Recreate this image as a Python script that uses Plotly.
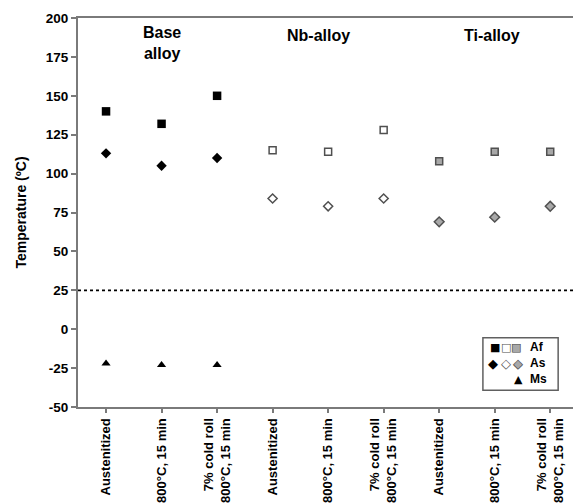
import plotly.graph_objects as go

# ---- data ----
positions = [1, 2, 3, 4, 5, 6, 7, 8, 9]
tick_labels = ["Austenitized", "800°C, 15 min", "7% cold roll<br>800°C, 15 min",
               "Austenitized", "800°C, 15 min", "7% cold roll<br>800°C, 15 min",
               "Austenitized", "800°C, 15 min", "7% cold roll<br>800°C, 15 min"]
y_tick_vals = [-50, -25, 0, 25, 50, 75, 100, 125, 150, 175, 200]
y_tick_text = ["-50", "-25", "0", "25", "50", "75", "100", "125", "150", "175", "200"]

base_x = [1, 2, 3]
nb_x = [4, 5, 6]
ti_x = [7, 8, 9]

base_af = [140, 132, 150]
base_as = [113, 105, 110]
base_ms = [-22, -23, -23]

nb_af = [115, 114, 128]
nb_as = [84, 79, 84]

ti_af = [108, 114, 114]
ti_as = [69, 72, 79]

group_names = ["Base<br>alloy", "Nb-alloy", "Ti-alloy"]
group_label_x = [2.0, 4.82, 7.95]
group_label_y = [184, 189, 189]

rt_temp = 25

FONT = "Arial, Liberation Sans, sans-serif"
DARK = "#505050"
GRAY_FILL = "#a8a8a8"
AXIS = "#7a7a7a"

fig = go.Figure()

def add(x, y, symbol, size, fill, line_color, line_w):
    fig.add_trace(go.Scatter(
        x=x, y=y, mode="markers", showlegend=False,
        marker=dict(symbol=symbol, size=size, color=fill,
                    line=dict(color=line_color, width=line_w))))

add(base_x, base_af, "square", 8.5, "black", "black", 0)
add(base_x, base_as, "diamond", 8, "black", "black", 0)
add(base_x, base_ms, "triangle-up", 8, "black", "black", 0)
add(nb_x, nb_af, "square", 7, "white", DARK, 1.5)
add(nb_x, nb_as, "diamond", 7, "white", DARK, 1.5)
add(ti_x, ti_af, "square", 7, GRAY_FILL, DARK, 1.5)
add(ti_x, ti_as, "diamond", 7.5, GRAY_FILL, DARK, 1.5)

# dotted room-temperature line
fig.add_shape(type="line", xref="paper", x0=0, x1=1, yref="y", y0=rt_temp, y1=rt_temp,
              line=dict(color="black", width=1.8, dash="dot"))

# group labels
for name, gx, gy in zip(group_names, group_label_x, group_label_y):
    fig.add_annotation(x=gx, y=gy, xref="x", yref="y", text="<b>" + name + "</b>",
                       showarrow=False, font=dict(family=FONT, size=16, color="black"),
                       align="center")

# custom legend (box + glyphs)
fig.add_shape(type="rect", xref="paper", yref="paper", x0=0.818, x1=0.970, y0=0.043, y1=0.178,
              line=dict(color="#606060", width=1.5), fillcolor="white")

def glyph(x, y, ch, color, size):
    fig.add_annotation(x=x, y=y, xref="paper", yref="paper", text=ch, showarrow=False,
                       xanchor="center", yanchor="middle",
                       font=dict(family="DejaVu Sans", size=size, color=color))

row_af, row_as, row_ms = 0.153, 0.112, 0.071
glyph(0.842, row_af, "■", "black", 11)
glyph(0.864, row_af, "□", DARK, 11)
glyph(0.885, row_af, "■", GRAY_FILL, 11)
glyph(0.885, row_af, "□", DARK, 11)
glyph(0.838, row_as, "◆", "black", 13)
glyph(0.864, row_as, "◇", DARK, 13)
glyph(0.889, row_as, "◆", GRAY_FILL, 13)
glyph(0.889, row_as, "◇", DARK, 13)
glyph(0.889, row_ms, "▲", "black", 11)
for txt, ry in [("Af", row_af), ("As", row_as), ("Ms", row_ms)]:
    fig.add_annotation(x=0.91, y=ry, xref="paper", yref="paper", text="<b>" + txt + "</b>",
                       showarrow=False, xanchor="left", yanchor="middle",
                       font=dict(family=FONT, size=12, color="black"))

fig.update_layout(
    width=573, height=503,
    margin=dict(l=78, r=0, t=18, b=92),
    plot_bgcolor="white", paper_bgcolor="white",
    font=dict(family=FONT, color="black"),
)
fig.update_xaxes(
    range=[0.495, 9.41], tickmode="array", tickvals=positions, ticktext=tick_labels,
    tickangle=-90, tickfont=dict(family=FONT, size=13, color="black", weight="bold"),
    showgrid=False, zeroline=False, showline=True, linecolor=AXIS, linewidth=2,
    mirror=True, ticks="outside", ticklen=4, tickcolor=AXIS, tickwidth=1.5,
)
fig.update_yaxes(
    range=[-50, 200], tickmode="array", tickvals=y_tick_vals, ticktext=y_tick_text,
    tickfont=dict(family=FONT, size=13.5, color="black", weight="bold"),
    showgrid=False, zeroline=False, showline=True, linecolor=AXIS, linewidth=2,
    ticks="outside", ticklen=5, tickcolor=AXIS, tickwidth=1.5,
    title=dict(text="Temperature (ºC)", standoff=16,
               font=dict(family=FONT, size=14, color="black", weight="bold")),
)

fig.write_html("out.html")
